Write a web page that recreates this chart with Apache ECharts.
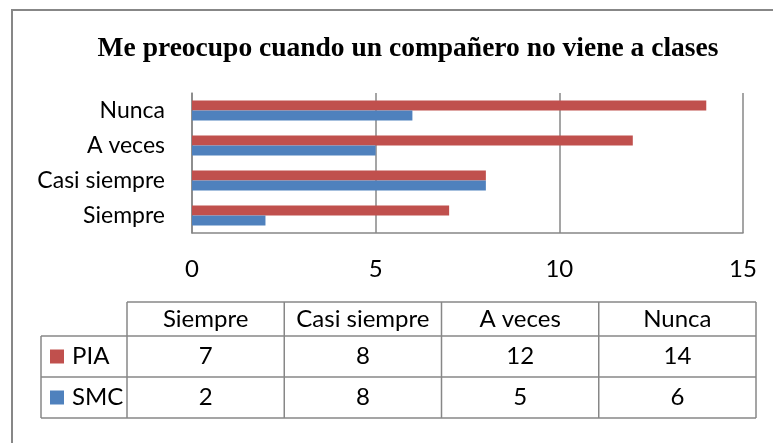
<!DOCTYPE html>
<html>
<head>
<meta charset="utf-8">
<script src="https://cdn.jsdelivr.net/npm/echarts@6/dist/echarts.min.js"></script>
<style>
  html, body { margin: 0; padding: 0; background: #fff; }
  #chart { width: 773px; height: 443px; }
</style>
</head>
<body>
<div id="chart"></div>
<script>
const categories = ['Siempre', 'Casi siempre', 'A veces', 'Nunca']
const piaValues = [7, 8, 12, 14]
const smcValues = [2, 8, 5, 6]
const seriesNames = ['PIA', 'SMC']
const seriesColors = ['#C0504D', '#4F81BD']

const chart = echarts.init(document.getElementById('chart'))

const lineColor = '#878787'
const labelFont = 'Lato'

// data table under the plot (drawn with graphic elements)
const tableLeft = 41
const keyRight = 127
const tableRight = 756
const rowEdges = [302, 336, 377, 418]
const colWidth = (tableRight - keyRight) / categories.length

function hline(x1, x2, y) {
  return { type: 'line', shape: { x1: x1, y1: y, x2: x2, y2: y }, style: { stroke: lineColor, lineWidth: 1.5 } }
}
function vline(x, y1, y2) {
  return { type: 'line', shape: { x1: x, y1: y1, x2: x, y2: y2 }, style: { stroke: lineColor, lineWidth: 1.5 } }
}
function cellText(text, x, y, align) {
  return {
    type: 'text',
    style: {
      text: String(text), x: x, y: y,
      textAlign: align || 'center', textVerticalAlign: 'middle',
      font: '24px ' + labelFont, fill: '#000'
    }
  }
}

const tableGraphics = []
tableGraphics.push(hline(keyRight, tableRight, rowEdges[0]))
for (let i = 1; i < rowEdges.length; i++) {
  tableGraphics.push(hline(tableLeft, tableRight, rowEdges[i]))
}
tableGraphics.push(vline(tableLeft, rowEdges[1], rowEdges[3]))
for (let i = 0; i <= categories.length; i++) {
  tableGraphics.push(vline(keyRight + i * colWidth, rowEdges[0], rowEdges[3]))
}
categories.forEach(function (c, i) {
  tableGraphics.push(cellText(c, keyRight + (i + 0.5) * colWidth, (rowEdges[0] + rowEdges[1]) / 2))
})
;[piaValues, smcValues].forEach(function (vals, r) {
  const yMid = (rowEdges[r + 1] + rowEdges[r + 2]) / 2
  tableGraphics.push({
    type: 'rect',
    shape: { x: 50, y: yMid - 7, width: 14, height: 14 },
    style: { fill: seriesColors[r] }
  })
  tableGraphics.push(cellText(seriesNames[r], 72, yMid, 'left'))
  vals.forEach(function (v, i) {
    tableGraphics.push(cellText(v, keyRight + (i + 0.5) * colWidth, yMid))
  })
})

chart.setOption({
  animation: false,
  title: {
    text: 'Me preocupo cuando un compañero no viene a clases',
    left: 403,
    top: 30,
    textAlign: 'center',
    textStyle: {
      fontFamily: 'Liberation Serif',
      fontWeight: 'bold',
      fontSize: 27.5,
      color: '#000'
    }
  },
  grid: {
    left: 192,
    right: 30,
    top: 93,
    height: 140
  },
  xAxis: {
    type: 'value',
    min: 0,
    max: 15,
    interval: 5,
    axisLine: { show: true, lineStyle: { color: lineColor, width: 1.5 } },
    axisTick: { show: false },
    splitLine: { show: true, lineStyle: { color: lineColor, width: 1.5 } },
    axisLabel: { fontFamily: labelFont, fontSize: 24, color: '#000', margin: 24 }
  },
  yAxis: {
    type: 'category',
    data: categories,
    axisLine: { show: true, lineStyle: { color: lineColor, width: 1.5 } },
    axisTick: { show: false },
    axisLabel: { fontFamily: labelFont, fontSize: 23, color: '#000', margin: 27 }
  },
  series: [
    {
      name: 'PIA',
      type: 'bar',
      data: piaValues,
      barWidth: 10,
      barGap: '0%',
      itemStyle: { color: seriesColors[0] }
    },
    {
      name: 'SMC',
      type: 'bar',
      data: smcValues,
      barWidth: 10,
      barGap: '0%',
      itemStyle: { color: seriesColors[1] }
    }
  ],
  graphic: [
    {
      type: 'rect',
      shape: { x: 12, y: 10, width: 800, height: 500 },
      style: { fill: 'none', stroke: lineColor, lineWidth: 2 }
    }
  ].concat(tableGraphics)
})
</script>
</body>
</html>
